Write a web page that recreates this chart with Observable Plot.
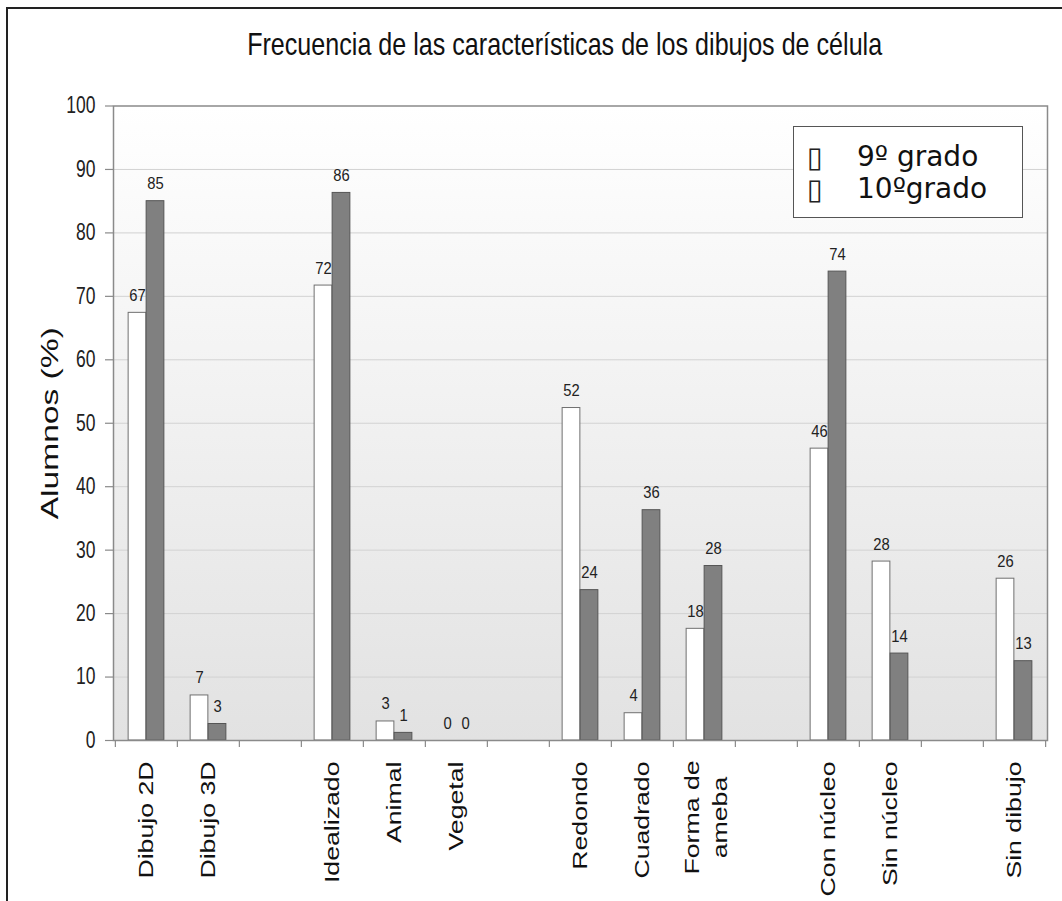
<!DOCTYPE html>
<html>
<head>
<meta charset="utf-8">
<script src="https://cdn.jsdelivr.net/npm/d3@7"></script>
<script src="https://cdn.jsdelivr.net/npm/@observablehq/plot@0.6"></script>
<style>
  html, body { margin: 0; padding: 0; background: #fff; }
  body { width: 1062px; height: 901px; overflow: hidden; position: relative; font-family: "Liberation Sans", Arial, sans-serif; }
  #chart { position: absolute; left: 0; top: 0; }
  #border { position: absolute; left: 6px; top: 7px; width: 1200px; height: 1200px; border: 2px solid #222; pointer-events: none; }
  #title { position: absolute; left: 0; top: 28px; width: 1129px; text-align: center; font-size: 32px; line-height: 32px; color: #111; white-space: nowrap; }
  #title span { display: inline-block; transform-origin: center; }
  #legend { position: absolute; left: 793px; top: 126px; width: 230px; height: 92px; box-sizing: border-box; border: 1.5px solid #555; background: #fff; font-family: "DejaVu Sans", Verdana, sans-serif; color: #111; }
  #legend .row { position: absolute; left: 0; height: 28px; font-size: 28px; line-height: 28px; white-space: nowrap; }
  #legend .sw { position: absolute; left: 13px; top: 0; font-size: 29px; line-height: 28px; color: #222; }
  #legend .lab { position: absolute; left: 63px; top: 0; }
</style>
</head>
<body>
<svg width="0" height="0" style="position:absolute">
  <defs>
    <linearGradient id="bg" x1="0" y1="0" x2="0" y2="1">
      <stop offset="0%" stop-color="#ffffff"/>
      <stop offset="100%" stop-color="#e2e2e2"/>
    </linearGradient>
  </defs>
</svg>
<div id="chart"></div>
<div id="title"><span>Frecuencia de las características de los dibujos de célula</span></div>
<div id="legend"></div>
<div id="border"></div>
<script>
// ---- data ----
const categories = ["Dibujo 2D", "Dibujo 3D", " ", "Idealizado", "Animal", "Vegetal", "  ",
  "Redondo", "Cuadrado", "Forma de\nameba", "   ", "Con núcleo", "Sin núcleo", "    ", "Sin dibujo"];
const drawnCategories = ["Dibujo 2D", "Dibujo 3D", "Idealizado", "Animal", "Vegetal",
  "Redondo", "Cuadrado", "Forma de\nameba", "Con núcleo", "Sin núcleo", "Sin dibujo"];
const grade9 = [67.4, 7.1, 71.7, 3.0, 0, 52.4, 4.3, 17.6, 46.0, 28.2, 25.5];
const grade10 = [85.0, 2.6, 86.3, 1.2, 0, 23.7, 36.3, 27.5, 73.9, 13.7, 12.5];
const seriesNames = ["9º grado", "10ºgrado"];
const yTicks = [0, 10, 20, 30, 40, 50, 60, 70, 80, 90, 100];
const yLabel = "Alumnos (%)";

// ---- layout ----
const W = 1062, H = 901, mL = 113, mR = 15, mT = 105.5, mB = 161;
const bw = (W - mL - mR) / categories.length;
const barW = 18;
const outer = (bw - 2 * barW) / 2;

const d9 = drawnCategories.map((c, i) => ({cat: c, v: grade9[i]}));
const d10 = drawnCategories.map((c, i) => ({cat: c, v: grade10[i]}));
const singleLabels = categories.filter(c => c.trim() && !c.includes("\n"));
const multiLabels = categories.filter(c => c.includes("\n"));

const FS_VAL = 17, FS_CAT = 21, FS_YLAB = 24.5;

const plot = Plot.plot({
  width: W, height: H,
  marginLeft: mL, marginRight: mR, marginTop: mT, marginBottom: mB,
  style: {background: "transparent", overflow: "visible", fontFamily: "'Liberation Sans', Arial, sans-serif", color: "#111"},
  x: {domain: categories, padding: 0, axis: null},
  y: {domain: [0, 100], axis: null},
  marks: [
    Plot.frame({fill: "url(#bg)"}),
    Plot.gridY(yTicks.slice(1, -1), {stroke: "#d2d2d2", strokeOpacity: 1, strokeWidth: 1}),
    Plot.barY(d9, {x: "cat", y: "v", fill: "#ffffff", stroke: "#707070", strokeWidth: 1, insetLeft: outer, insetRight: outer + barW}),
    Plot.barY(d10, {x: "cat", y: "v", fill: "#808080", stroke: "#555555", strokeWidth: 1, insetLeft: outer + barW, insetRight: outer}),
    Plot.frame({stroke: "#8a8a8a", strokeWidth: 1.5}),
    Plot.axisY({ticks: yTicks, tickSize: 8, tickPadding: 10, fontSize: 23, stroke: "#8a8a8a", fill: "#222", label: null, strokeWidth: 1.2}),
    Plot.axisX({ticks: categories, tickSize: 7, tickFormat: () => "", dx: -bw / 2, stroke: "#8a8a8a", label: null, strokeWidth: 1.2}),
    Plot.axisX({ticks: categories.slice(-1), tickSize: 7, tickFormat: () => "", dx: bw / 2, stroke: "#8a8a8a", label: null, strokeWidth: 1.2}),
    Plot.text(d9, {x: "cat", y: "v", text: d => String(Math.round(d.v)), dx: -barW / 2, dy: -12, lineAnchor: "bottom", fontSize: FS_VAL, fill: "#222"}),
    Plot.text(d10, {x: "cat", y: "v", text: d => String(Math.round(d.v)), dx: barW / 2, dy: -12, lineAnchor: "bottom", fontSize: FS_VAL, fill: "#222"}),
    Plot.text(singleLabels, {x: d => d, text: d => d, frameAnchor: "bottom", rotate: -90, textAnchor: "end", lineAnchor: "middle", dy: 21, fontSize: FS_CAT, fill: "#111"}),
    Plot.text(multiLabels, {x: d => d, text: d => d, frameAnchor: "bottom", rotate: -90, textAnchor: "middle", lineAnchor: "middle", lineHeight: 1.33, dy: 77, fontSize: FS_CAT, fill: "#111"}),
    Plot.text([yLabel], {text: d => d, frameAnchor: "left", rotate: -90, dx: -63, textAnchor: "middle", lineAnchor: "middle", fontSize: FS_YLAB, fill: "#111"})
  ]
});
document.getElementById("chart").append(plot);

// stretch / squeeze text to imitate the reference's aspect
function adjustEls(texts, ratio) {
  texts.forEach(t => {
    const parts = t.querySelectorAll("tspan");
    const els = parts.length ? Array.from(parts) : [t];
    els.forEach(e => {
      const L = e.getComputedTextLength();
      if (L > 0) {
        e.setAttribute("textLength", L * ratio);
        e.setAttribute("lengthAdjust", "spacingAndGlyphs");
      }
    });
  });
}
function textsOfSize(fs) {
  return Array.from(plot.querySelectorAll(`g[font-size="${fs}"] text`));
}
adjustEls(textsOfSize(FS_VAL), 0.87);
adjustEls(Array.from(plot.querySelectorAll('g[aria-label="y-axis tick label"] text')), 0.76);
adjustEls(textsOfSize(FS_CAT), 1.27);
adjustEls(textsOfSize(FS_YLAB), 1.37);

// title width
const ts = document.querySelector("#title span");
ts.style.transform = `scaleX(${635 / ts.getBoundingClientRect().width})`;

// legend
const legend = document.getElementById("legend");
seriesNames.forEach((name, i) => {
  const row = document.createElement("div");
  row.className = "row";
  row.style.top = (16 + i * 32) + "px";
  row.style.width = "100%";
  row.innerHTML = `<span class="sw">▯</span><span class="lab"></span>`;
  row.querySelector(".lab").textContent = name;
  legend.append(row);
});
</script>
</body>
</html>
